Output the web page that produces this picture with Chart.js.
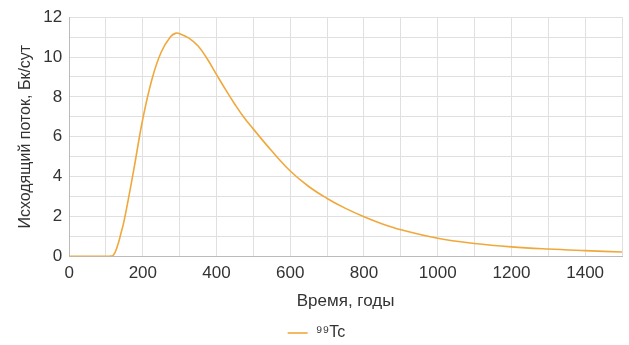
<!DOCTYPE html>
<html>
<head>
<meta charset="utf-8">
<script src="https://cdn.jsdelivr.net/npm/chart.js@4/dist/chart.umd.min.js"></script>
<style>
  html, body { margin: 0; padding: 0; background: #fff; }
  #wrap { width: 629px; height: 345px; }
</style>
</head>
<body>
<div id="wrap"><canvas id="fluxChart"></canvas></div>
<script>
// years and outgoing flux (Bq/day)
const years = [0, 100, 110, 120, 130, 140, 150, 175, 200, 225, 250, 275, 290, 300, 325, 350, 375, 400, 425, 450, 475, 500, 550, 600, 650, 700, 750, 800, 850, 900, 1000, 1100, 1200, 1300, 1400, 1500];
const tcFlux = [0, 0, 0, 0.05, 0.45, 1.1, 1.85, 4.3, 6.9, 8.9, 10.25, 11.02, 11.2, 11.17, 10.95, 10.55, 9.9, 9.12, 8.35, 7.62, 6.95, 6.38, 5.28, 4.28, 3.5, 2.9, 2.4, 1.98, 1.62, 1.33, 0.9, 0.64, 0.47, 0.36, 0.28, 0.21];
const seriesName = "⁹⁹Tc";
const xTitle = "Время, годы";
const yTitle = "Исходящий поток, Бк/сут";

const textColor = "#333";
const gridColor = "#e0e0e0";
const fontFamily = "'Liberation Sans', Arial, sans-serif";

const ctx = document.getElementById("fluxChart").getContext("2d");
new Chart(ctx, {
  type: "line",
  data: {
    datasets: [{
      label: seriesName,
      data: years.map((x, i) => ({ x: x, y: tcFlux[i] })),
      borderColor: "rgb(240, 168, 60)",
      backgroundColor: "rgb(240, 168, 60)",
      borderWidth: 1.6,
      pointRadius: 0,
      tension: 0.4,
      fill: false
    }]
  },
  options: {
    responsive: true,
    maintainAspectRatio: false,
    animation: false,
    layout: { padding: { top: 8, right: 4, left: 8, bottom: 0 } },
    plugins: {
      tooltip: { enabled: false },
      legend: {
        position: "bottom",
        maxHeight: 23,
        labels: {
          usePointStyle: true,
          pointStyle: "line",
          pointStyleWidth: 20,
          boxHeight: 2,
          color: textColor,
          padding: 3,
          font: { family: fontFamily, size: 16 }
        }
      }
    },
    scales: {
      x: {
        type: "linear",
        min: 0,
        max: 1500,
        title: {
          display: true,
          text: xTitle,
          color: textColor,
          font: { family: fontFamily, size: 17 },
          padding: { top: 1, bottom: 10 }
        },
        ticks: {
          stepSize: 100,
          autoSkip: false,
          maxRotation: 0,
          padding: 7,
          color: textColor,
          font: { family: fontFamily, size: 17 },
          callback: (v) => (v % 200 === 0 ? v : "")
        },
        grid: { color: gridColor, drawTicks: false },
        border: { color: "#bbb" }
      },
      y: {
        min: 0,
        max: 12,
        title: {
          display: true,
          text: yTitle,
          color: textColor,
          font: { family: fontFamily, size: 16 },
          padding: { top: 8, bottom: 1 }
        },
        ticks: {
          stepSize: 1,
          autoSkip: false,
          padding: 7,
          color: textColor,
          font: { family: fontFamily, size: 17 },
          callback: (v) => (v % 2 === 0 ? v : "")
        },
        grid: { color: gridColor, drawTicks: false },
        border: { color: "#bbb" }
      }
    }
  }
});
</script>
</body>
</html>
